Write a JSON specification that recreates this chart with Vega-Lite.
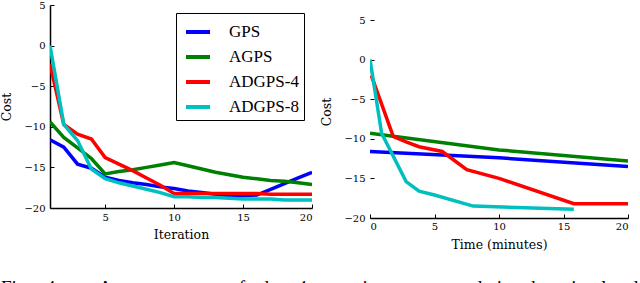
{
  "$schema": "https://vega.github.io/schema/vega-lite/v6.json",
  "padding": {"left": 0, "top": 0, "right": 0, "bottom": 0},
  "background": "white",
  "bounds": "flush",
  "spacing": 58,
  "config": {
    "view": {"stroke": null},
    "font": "Liberation Serif",
    "axis": {
      "labelFont": "DejaVu Serif",
      "labelFontSize": 10,
      "labelColor": "black",
      "titleFont": "DejaVu Serif",
      "titleFontSize": 12.5,
      "titleFontWeight": "normal",
      "titleColor": "black",
      "domainColor": "black",
      "domainWidth": 1.5,
      "tickColor": "black",
      "tickWidth": 1,
      "tickSize": -4,
      "grid": false
    }
  },
  "title": {
    "text": "Fig.\u00a0\u00a0\u00a04\u00a0\u00a0\u00a0\u00a0\u00a0\u00a0\u00a0\u00a0\u00a0Average\u00a0\u00a0\u00a0costs\u00a0\u00a0\u00a0of\u00a0\u00a0\u00a0the\u00a0\u00a0\u00a04\u00a0\u00a0\u00a0test\u00a0\u00a0\u00a0instances\u00a0\u00a0\u00a0used\u00a0\u00a0\u00a0in\u00a0\u00a0\u00a0the\u00a0\u00a0\u00a0simulated",
    "orient": "bottom",
    "anchor": "start",
    "frame": "bounds",
    "baseline": "alphabetic",
    "font": "Liberation Serif",
    "fontSize": 19.2,
    "fontWeight": "normal",
    "color": "black",
    "offset": 43
  },
  "datasets": {
    "iter": [
      {"series": "GPS", "iteration": 1, "cost": -11.6},
      {"series": "GPS", "iteration": 2, "cost": -12.5},
      {"series": "GPS", "iteration": 3, "cost": -14.6},
      {"series": "GPS", "iteration": 4, "cost": -15.1},
      {"series": "GPS", "iteration": 5, "cost": -16.2},
      {"series": "GPS", "iteration": 6, "cost": -16.6},
      {"series": "GPS", "iteration": 7, "cost": -16.9},
      {"series": "GPS", "iteration": 8, "cost": -17.1},
      {"series": "GPS", "iteration": 9, "cost": -17.4},
      {"series": "GPS", "iteration": 10, "cost": -17.6},
      {"series": "GPS", "iteration": 11, "cost": -17.9},
      {"series": "GPS", "iteration": 12, "cost": -18.1},
      {"series": "GPS", "iteration": 13, "cost": -18.3},
      {"series": "GPS", "iteration": 14, "cost": -18.5},
      {"series": "GPS", "iteration": 15, "cost": -18.5},
      {"series": "GPS", "iteration": 16, "cost": -18.4},
      {"series": "GPS", "iteration": 17, "cost": -17.7},
      {"series": "GPS", "iteration": 18, "cost": -17.0},
      {"series": "GPS", "iteration": 19, "cost": -16.3},
      {"series": "GPS", "iteration": 20, "cost": -15.6},
      {"series": "AGPS", "iteration": 1, "cost": -9.4},
      {"series": "AGPS", "iteration": 2, "cost": -11.3},
      {"series": "AGPS", "iteration": 3, "cost": -12.6},
      {"series": "AGPS", "iteration": 4, "cost": -13.9},
      {"series": "AGPS", "iteration": 5, "cost": -15.8},
      {"series": "AGPS", "iteration": 6, "cost": -15.5},
      {"series": "AGPS", "iteration": 7, "cost": -15.3},
      {"series": "AGPS", "iteration": 8, "cost": -15.0},
      {"series": "AGPS", "iteration": 9, "cost": -14.7},
      {"series": "AGPS", "iteration": 10, "cost": -14.4},
      {"series": "AGPS", "iteration": 11, "cost": -14.8},
      {"series": "AGPS", "iteration": 12, "cost": -15.2},
      {"series": "AGPS", "iteration": 13, "cost": -15.6},
      {"series": "AGPS", "iteration": 14, "cost": -15.9},
      {"series": "AGPS", "iteration": 15, "cost": -16.2},
      {"series": "AGPS", "iteration": 16, "cost": -16.4},
      {"series": "AGPS", "iteration": 17, "cost": -16.6},
      {"series": "AGPS", "iteration": 18, "cost": -16.7},
      {"series": "AGPS", "iteration": 19, "cost": -16.9},
      {"series": "AGPS", "iteration": 20, "cost": -17.1},
      {"series": "ADGPS-4", "iteration": 1, "cost": -2.3},
      {"series": "ADGPS-4", "iteration": 2, "cost": -9.7},
      {"series": "ADGPS-4", "iteration": 3, "cost": -10.9},
      {"series": "ADGPS-4", "iteration": 4, "cost": -11.5},
      {"series": "ADGPS-4", "iteration": 5, "cost": -13.8},
      {"series": "ADGPS-4", "iteration": 6, "cost": -14.6},
      {"series": "ADGPS-4", "iteration": 7, "cost": -15.4},
      {"series": "ADGPS-4", "iteration": 8, "cost": -16.3},
      {"series": "ADGPS-4", "iteration": 9, "cost": -17.2},
      {"series": "ADGPS-4", "iteration": 10, "cost": -18.2},
      {"series": "ADGPS-4", "iteration": 11, "cost": -18.2},
      {"series": "ADGPS-4", "iteration": 12, "cost": -18.2},
      {"series": "ADGPS-4", "iteration": 13, "cost": -18.2},
      {"series": "ADGPS-4", "iteration": 14, "cost": -18.2},
      {"series": "ADGPS-4", "iteration": 15, "cost": -18.2},
      {"series": "ADGPS-4", "iteration": 16, "cost": -18.2},
      {"series": "ADGPS-4", "iteration": 17, "cost": -18.3},
      {"series": "ADGPS-4", "iteration": 18, "cost": -18.3},
      {"series": "ADGPS-4", "iteration": 19, "cost": -18.3},
      {"series": "ADGPS-4", "iteration": 20, "cost": -18.3},
      {"series": "ADGPS-8", "iteration": 1, "cost": 0.0},
      {"series": "ADGPS-8", "iteration": 2, "cost": -9.7},
      {"series": "ADGPS-8", "iteration": 3, "cost": -11.7},
      {"series": "ADGPS-8", "iteration": 4, "cost": -15.2},
      {"series": "ADGPS-8", "iteration": 5, "cost": -16.4},
      {"series": "ADGPS-8", "iteration": 6, "cost": -16.9},
      {"series": "ADGPS-8", "iteration": 7, "cost": -17.3},
      {"series": "ADGPS-8", "iteration": 8, "cost": -17.7},
      {"series": "ADGPS-8", "iteration": 9, "cost": -18.1},
      {"series": "ADGPS-8", "iteration": 10, "cost": -18.6},
      {"series": "ADGPS-8", "iteration": 11, "cost": -18.6},
      {"series": "ADGPS-8", "iteration": 12, "cost": -18.7},
      {"series": "ADGPS-8", "iteration": 13, "cost": -18.7},
      {"series": "ADGPS-8", "iteration": 14, "cost": -18.8},
      {"series": "ADGPS-8", "iteration": 15, "cost": -18.9},
      {"series": "ADGPS-8", "iteration": 16, "cost": -18.9},
      {"series": "ADGPS-8", "iteration": 17, "cost": -18.9},
      {"series": "ADGPS-8", "iteration": 18, "cost": -19.0},
      {"series": "ADGPS-8", "iteration": 19, "cost": -19.0},
      {"series": "ADGPS-8", "iteration": 20, "cost": -19.0}
    ],
    "time": [
      {"series": "GPS", "minutes": 0, "cost": -11.6},
      {"series": "GPS", "minutes": 10, "cost": -12.4},
      {"series": "GPS", "minutes": 20, "cost": -13.5},
      {"series": "AGPS", "minutes": 0, "cost": -9.3},
      {"series": "AGPS", "minutes": 10, "cost": -11.4},
      {"series": "AGPS", "minutes": 20, "cost": -12.8},
      {"series": "ADGPS-4", "minutes": 0.1, "cost": -2.0},
      {"series": "ADGPS-4", "minutes": 1.8, "cost": -9.7},
      {"series": "ADGPS-4", "minutes": 2.8, "cost": -10.4},
      {"series": "ADGPS-4", "minutes": 3.8, "cost": -11.0},
      {"series": "ADGPS-4", "minutes": 5.6, "cost": -11.6},
      {"series": "ADGPS-4", "minutes": 7.5, "cost": -13.9},
      {"series": "ADGPS-4", "minutes": 10, "cost": -15.0},
      {"series": "ADGPS-4", "minutes": 15.8, "cost": -18.2},
      {"series": "ADGPS-4", "minutes": 20, "cost": -18.2},
      {"series": "ADGPS-8", "minutes": 0, "cost": 0.0},
      {"series": "ADGPS-8", "minutes": 0.9, "cost": -9.3},
      {"series": "ADGPS-8", "minutes": 2.8, "cost": -15.4},
      {"series": "ADGPS-8", "minutes": 3.8, "cost": -16.6},
      {"series": "ADGPS-8", "minutes": 5, "cost": -17.1},
      {"series": "ADGPS-8", "minutes": 8, "cost": -18.5},
      {"series": "ADGPS-8", "minutes": 15.8, "cost": -18.9}
    ]
  },
  "resolve": {"scale": {"color": "independent"}, "legend": {"color": "independent"}},
  "hconcat": [
    {
      "width": 262,
      "height": 203,
      "data": {"name": "iter"},
      "mark": {"type": "line", "strokeWidth": 3.5, "clip": true},
      "encoding": {
        "x": {
          "field": "iteration", "type": "quantitative", "title": "Iteration",
          "scale": {"domain": [1, 20], "nice": false, "zero": false},
          "axis": {"values": [5, 10, 15, 20], "labelPadding": 8, "titlePadding": 6}
        },
        "y": {
          "field": "cost", "type": "quantitative", "title": "Cost",
          "scale": {"domain": [-20, 5], "nice": false},
          "axis": {"values": [-20, -15, -10, -5, 0, 5], "labelPadding": 9, "titlePadding": 10}
        },
        "color": {
          "field": "series", "type": "nominal",
          "scale": {"domain": ["GPS", "AGPS", "ADGPS-4", "ADGPS-8"], "range": ["#0000ff", "#008000", "#ff0000", "#00bfbf"]},
          "legend": {
            "title": null,
            "orient": "top-right",
            "offset": 8,
            "symbolType": "stroke",
            "symbolSize": 576,
            "symbolStrokeWidth": 4,
            "symbolOffset": 3,
            "labelFont": "Liberation Serif",
            "labelFontSize": 17,
            "labelColor": "black",
            "labelOffset": 17,
            "rowPadding": 3,
            "padding": 5,
            "strokeColor": "black",
            "fillColor": "white"
          }
        }
      }
    },
    {
      "width": 258,
      "height": 213,
      "layer": [
        {
          "data": {"name": "time"},
          "mark": {"type": "line", "strokeWidth": 3.5, "clip": true},
          "encoding": {
            "x": {
              "field": "minutes", "type": "quantitative", "title": "Time (minutes)",
              "scale": {"domain": [0, 20], "nice": false},
              "axis": {"values": [0, 5, 10, 15, 20], "labelPadding": 7, "titlePadding": 7}
            },
            "y": {
              "field": "cost", "type": "quantitative", "title": "Cost",
              "scale": {"domain": [-20, 6.894], "nice": false},
              "axis": {"values": [-20, -15, -10, -5, 0, 5], "domain": false, "labelPadding": 9, "titlePadding": 10}
            },
            "color": {
              "field": "series", "type": "nominal",
              "scale": {"domain": ["GPS", "AGPS", "ADGPS-4", "ADGPS-8"], "range": ["#0000ff", "#008000", "#ff0000", "#00bfbf"]},
              "legend": null
            }
          }
        },
        {
          "mark": {"type": "rule", "color": "black", "strokeWidth": 1.5},
          "encoding": {
            "x": {"datum": 0},
            "y": {"datum": -20},
            "y2": {"datum": 5}
          }
        }
      ]
    }
  ]
}
